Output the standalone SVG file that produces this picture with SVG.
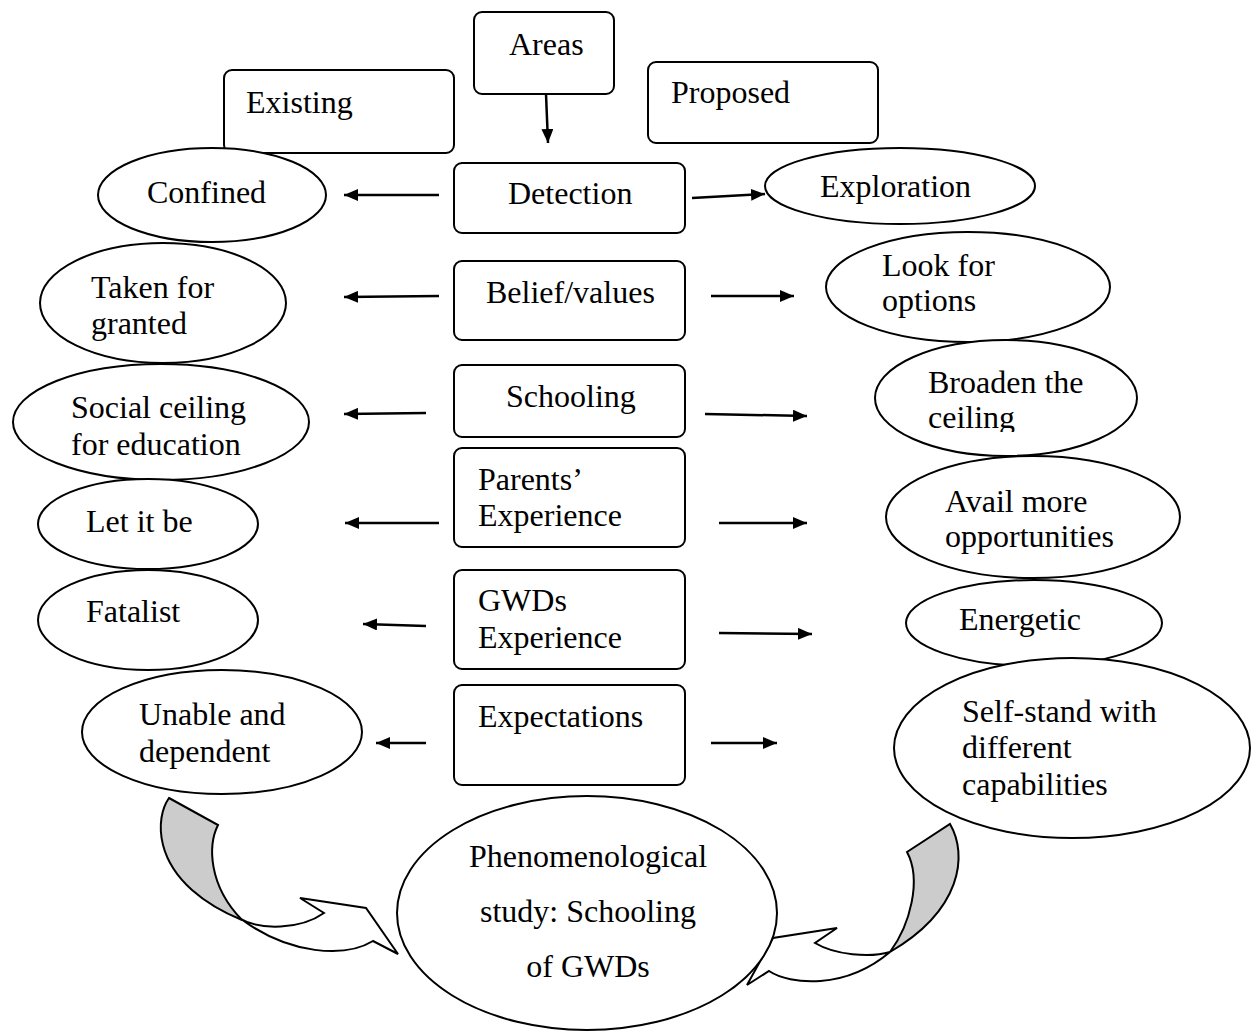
<svg xmlns="http://www.w3.org/2000/svg" width="1258" height="1036" viewBox="0 0 1258 1036">
<style>
.box{fill:#fff;stroke:#000;stroke-width:2}
.ell{fill:#fff;stroke:#000;stroke-width:2}
.t{font-family:"Liberation Serif","Times New Roman",serif;font-size:32px;fill:#000}
.c{text-anchor:middle}
.conn line{stroke:#000;stroke-width:2.5;fill:none;marker-end:url(#ah)}
.band{fill:#fff;stroke:#000;stroke-width:2;stroke-linejoin:miter}
.back{fill:#cccccc;stroke:#000;stroke-width:2}
</style>
<defs>
<marker id="ah" viewBox="0 0 14 12" refX="14" refY="6" markerWidth="14" markerHeight="12" markerUnits="userSpaceOnUse" orient="auto">
<path d="M0,0 L14,6 L0,12 Z" fill="#000"/>
</marker>
<clipPath id="clipBroaden"><rect x="870" y="330" width="270" height="102"/></clipPath>
</defs>
<rect width="1258" height="1036" fill="#fff"/>

<g id="curved-arrows">
<g id="curved-left">
<path class="back" d="M169,798 L218,825 C208,845 208,885 242,920 C205,905 172,880 163,845 C158,825 162,808 169,798 Z"/>
<path class="band" d="M241,919 C260,930 300,930 324,913 L300,898 L366,908 L398,954 L373,941 C345,958 290,955 241,919 Z"/>
</g>
<g id="curved-right">
<path class="back" d="M950,824 C968,855 962,910 890,952 C910,925 922,880 907,852 Z"/>
<path class="band" d="M890,952 C870,958 835,955 815,943 L837,928 L773,938 L747,985 L769,971 C790,985 845,990 890,952 Z"/>
</g>
</g>

<g id="connectors" class="conn">
<line x1="546" y1="94" x2="548" y2="143"/>
<line x1="439" y1="195" x2="344" y2="195"/>
<line x1="692" y1="198" x2="765" y2="194"/>
<line x1="439" y1="296" x2="344" y2="297"/>
<line x1="711" y1="296" x2="794" y2="296"/>
<line x1="426" y1="413" x2="344" y2="414"/>
<line x1="705" y1="414" x2="807" y2="416"/>
<line x1="439" y1="523" x2="345" y2="523"/>
<line x1="719" y1="523" x2="807" y2="523"/>
<line x1="426" y1="626" x2="363" y2="624"/>
<line x1="719" y1="633" x2="812" y2="634"/>
<line x1="426" y1="743" x2="376" y2="743"/>
<line x1="711" y1="743" x2="777" y2="743"/>
</g>

<g id="areas"><rect class="box" x="474" y="12" width="140" height="82" rx="8"/><text class="t" x="509" y="55">Areas</text></g>
<g id="existing"><rect class="box" x="224" y="70" width="230" height="83" rx="8"/><text class="t" x="246" y="113">Existing</text></g>
<g id="proposed"><rect class="box" x="648" y="62" width="230" height="81" rx="8"/><text class="t" x="671" y="103">Proposed</text></g>

<g id="detection"><rect class="box" x="454" y="163" width="231" height="70" rx="8"/><text class="t" x="508" y="204">Detection</text></g>
<g id="belief"><rect class="box" x="454" y="261" width="231" height="79" rx="8"/><text class="t" x="486" y="303">Belief/values</text></g>
<g id="schooling"><rect class="box" x="454" y="365" width="231" height="72" rx="8"/><text class="t" x="506" y="407">Schooling</text></g>
<g id="parents"><rect class="box" x="454" y="448" width="231" height="99" rx="8"/><text class="t" x="478" y="490">Parents’</text><text class="t" x="478" y="526">Experience</text></g>
<g id="gwds"><rect class="box" x="454" y="570" width="231" height="99" rx="8"/><text class="t" x="478" y="611">GWDs</text><text class="t" x="478" y="648">Experience</text></g>
<g id="expectations"><rect class="box" x="454" y="685" width="231" height="100" rx="8"/><text class="t" x="478" y="727">Expectations</text></g>

<g id="confined"><ellipse class="ell" cx="212" cy="195" rx="114" ry="47"/><text class="t" x="147" y="203">Confined</text></g>
<g id="taken"><ellipse class="ell" cx="163" cy="303" rx="123" ry="60"/><text class="t" x="91" y="298">Taken for</text><text class="t" x="91" y="334">granted</text></g>
<g id="social"><ellipse class="ell" cx="161" cy="422" rx="148" ry="58"/><text class="t" x="71" y="418">Social ceiling</text><text class="t" x="71" y="455">for education</text></g>
<g id="letitbe"><ellipse class="ell" cx="148" cy="524" rx="110" ry="45"/><text class="t" x="86" y="532">Let it be</text></g>
<g id="fatalist"><ellipse class="ell" cx="148" cy="620" rx="110" ry="50"/><text class="t" x="86" y="622">Fatalist</text></g>
<g id="unable"><ellipse class="ell" cx="222" cy="732" rx="140" ry="62"/><text class="t" x="139" y="725">Unable and</text><text class="t" x="139" y="762">dependent</text></g>

<g id="exploration"><ellipse class="ell" cx="900" cy="186" rx="135" ry="38"/><text class="t" x="820" y="197">Exploration</text></g>
<g id="lookfor"><ellipse class="ell" cx="968" cy="287" rx="142" ry="55"/><text class="t" x="882" y="276">Look for</text><text class="t" x="882" y="311">options</text></g>
<g id="broaden"><ellipse class="ell" cx="1006" cy="398" rx="131" ry="58"/><g clip-path="url(#clipBroaden)"><text class="t" x="928" y="393">Broaden the</text><text class="t" x="928" y="428">ceiling</text></g></g>
<g id="avail"><ellipse class="ell" cx="1033" cy="517" rx="147" ry="61"/><text class="t" x="945" y="512">Avail more</text><text class="t" x="945" y="547">opportunities</text></g>
<g id="energetic"><ellipse class="ell" cx="1034" cy="623" rx="128" ry="43"/><text class="t" x="959" y="630">Energetic</text></g>
<g id="selfstand"><ellipse class="ell" cx="1072" cy="748" rx="178" ry="90"/><text class="t" x="962" y="722">Self-stand with</text><text class="t" x="962" y="758">different</text><text class="t" x="962" y="795">capabilities</text></g>

<g id="phenomenological"><ellipse class="ell" cx="587" cy="913" rx="190" ry="117"/><text class="t c" x="588" y="867">Phenomenological</text><text class="t c" x="588" y="922">study: Schooling</text><text class="t c" x="588" y="977">of GWDs</text></g>
</svg>
